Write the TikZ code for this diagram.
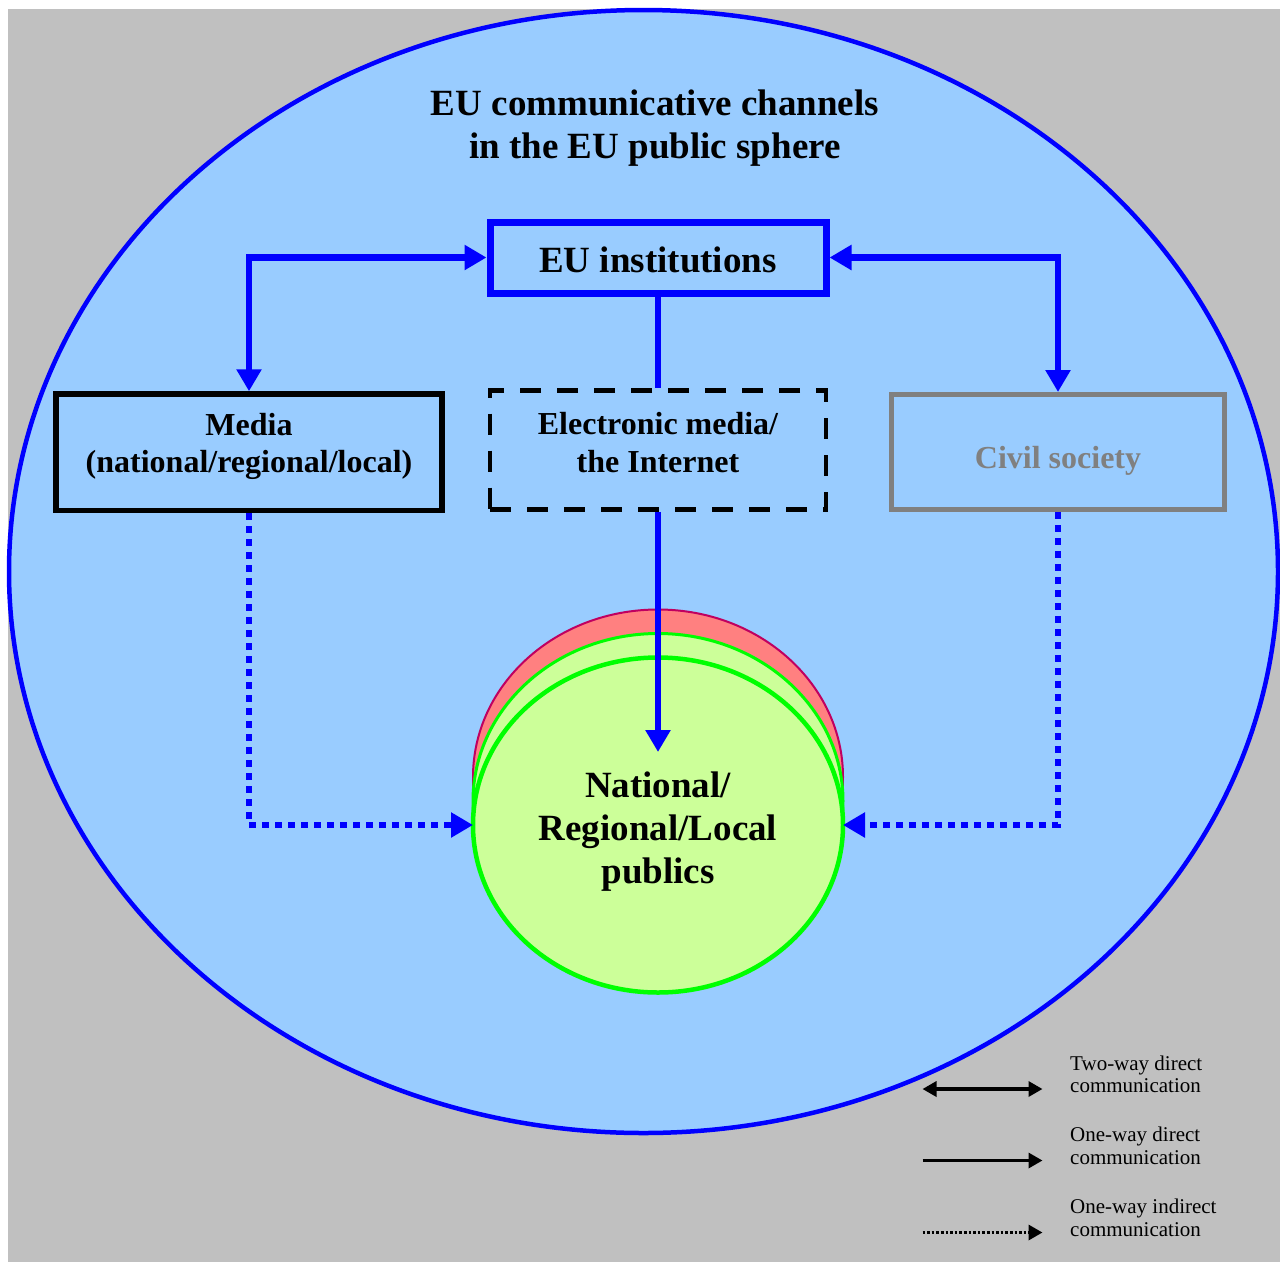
\documentclass[tikz,border=0pt]{standalone}
\usepackage{fontspec}
\setmainfont{Liberation Serif}
\usetikzlibrary{arrows.meta,shapes.geometric}
\definecolor{bgGray}{HTML}{C0C0C0}
\definecolor{skyFill}{HTML}{99CCFF}
\definecolor{pureBlue}{HTML}{0000FF}
\definecolor{civGray}{HTML}{808080}
\definecolor{redFill}{HTML}{FF8080}
\definecolor{redLine}{HTML}{C00060}
\definecolor{greenFill}{HTML}{CCFF99}
\definecolor{greenLine}{HTML}{00FF00}
\begin{document}
\begin{tikzpicture}[x=1pt,y=-1pt,
  framebox/.style={draw, rectangle, inner sep=0pt},
  bigtext/.style={font=\fontsize{37}{43}\selectfont\bfseries, align=center, inner sep=0pt},
  midtext/.style={font=\fontsize{32}{37.5}\selectfont\bfseries, align=center, inner sep=0pt},
  legtext/.style={font=\fontsize{21}{22.7}\selectfont, align=left, inner sep=0pt, anchor=west},
  conn/.style={draw=pureBlue, line width=6.5pt},
  dotconn/.style={draw=pureBlue, line width=6.5pt, dash pattern=on 7pt off 6pt},
  bigtip/.style={-{Triangle[length=22pt,width=24pt]}},
  bigtwo/.style={{Triangle[length=22pt,width=24pt]}-{Triangle[length=22pt,width=24pt]}},
  legline/.style={draw=black, line width=3.3pt},
  pubell/.style={ellipse, inner sep=0pt, outer sep=0pt, minimum width=370pt, minimum height=335pt}
]
\useasboundingbox (0,0) rectangle (1280,1262);
\fill[white] (0,0) rectangle (1280,1262);
\fill[bgGray] (8,9) rectangle (1280,1262);
\filldraw[fill=skyFill, draw=pureBlue, line width=4.5pt] (643.5,571.5) ellipse [x radius=634.5, y radius=561.5];

% title
\node[bigtext] (title) at (655,128.3) {EU communicative channels\\in the EU public sphere};

% boxes
\node[framebox, draw=pureBlue, line width=7pt, minimum width=336pt, minimum height=71pt] (eu) at (658,257.5) {};
\node[bigtext] (euT) at (658,259.5) {EU institutions};
\node[framebox, draw=black, line width=5.5pt, minimum width=386pt, minimum height=116.5pt] (media) at (249,452.25) {};
\node[framebox, draw=black, line width=4.5pt, dash pattern=on 21pt off 16pt, minimum width=336pt, minimum height=119pt] (elec) at (658,450) {};
\node[framebox, draw=civGray, line width=5pt, minimum width=333pt, minimum height=115pt] (civil) at (1058,452) {};

\node[midtext] (mediaT) at (249,446.5) {Media\\(national/regional/local)};
\node[midtext] (elecT) at (658,442.5) {Electronic media/\\the Internet};
\node[midtext, anchor=base, text=civGray] (civilT) at (1058,468) {Civil society};

% publics
\node[pubell, fill=redFill, draw=redLine, line width=2pt] (pubr) at (658,777) {};
\node[pubell, fill=greenFill, draw=greenLine, line width=3pt] (pubm) at (658,801) {};
\node[pubell, fill=greenFill, draw=greenLine, line width=4.5pt] (pub) at (658,825) {};
\node[bigtext] (pubT) at (658,831.5) {National/\\Regional/Local\\publics};

% connectors
\coordinate (tipE) at (658,752);
\draw[conn, bigtwo] (media.north) |- (eu.west);
\draw[conn, bigtwo] (civil.north) |- (eu.east);
\draw[conn] (eu.south) -- (elec.north);
\draw[conn, bigtip] (elec.south) -- (tipE);
\draw[dotconn, bigtip] (media.south) |- (pub.west);
\draw[dotconn, bigtip] (civil.south) |- (pub.east);

% legend
\coordinate (la1) at (922.5,1089);
\coordinate (lb1) at (1042.5,1089);
\coordinate (la2) at (922.5,1160.5);
\coordinate (lb2) at (1042.5,1160.5);
\coordinate (la3) at (922.5,1232.5);
\coordinate (lb3) at (1042.5,1232.5);
\draw[legline, {Triangle[length=14pt,width=15pt]}-{Triangle[length=14pt,width=15pt]}] (la1) -- (lb1);
\draw[legline, -{Triangle[length=14pt,width=15pt]}] (la2) -- (lb2);
\draw[legline, dash pattern=on 2.6pt off 2pt, -{Triangle[length=14pt,width=15pt]}] (la3) -- (lb3);
\node[legtext] (leg1) at (1070,1074.3) {Two-way direct\\communication};
\node[legtext] (leg2) at (1070,1145.7) {One-way direct\\communication};
\node[legtext] (leg3) at (1070,1217.9) {One-way indirect\\communication};
\end{tikzpicture}
\end{document}
